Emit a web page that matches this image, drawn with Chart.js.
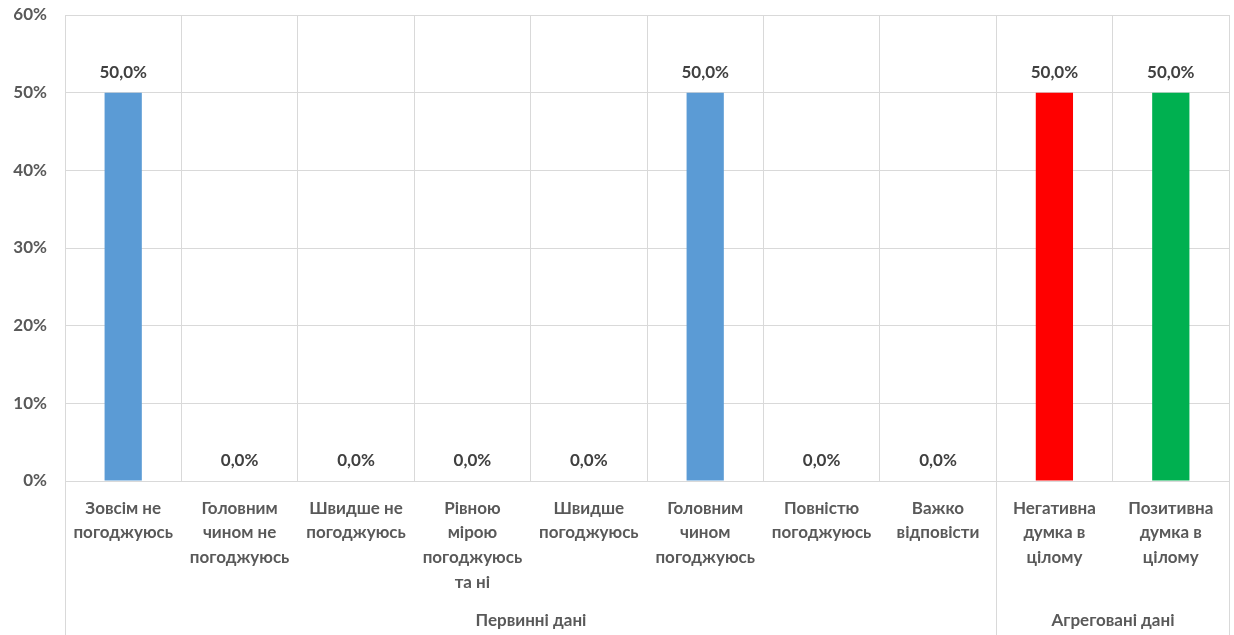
<!DOCTYPE html>
<html>
<head>
<meta charset="utf-8">
<script src="https://cdn.jsdelivr.net/npm/chart.js@4"></script>
<style>
    html, body { margin: 0; padding: 0; background: #fff; }
    #wrap { width: 1234px; height: 635px; }
</style>
</head>
<body>
<div id="wrap"><canvas id="myChart"></canvas></div>
<script>
const categories = [
    ['Зовсім не', 'погоджуюсь'],
    ['Головним', 'чином не', 'погоджуюсь'],
    ['Швидше не', 'погоджуюсь'],
    ['Рівною', 'мірою', 'погоджуюсь', 'та ні'],
    ['Швидше', 'погоджуюсь'],
    ['Головним', 'чином', 'погоджуюсь'],
    ['Повністю', 'погоджуюсь'],
    ['Важко', 'відповісти'],
    ['Негативна', 'думка в', 'цілому'],
    ['Позитивна', 'думка в', 'цілому']
];
const values = [50, 0, 0, 0, 0, 50, 0, 0, 50, 50];
const barColors = ['#5B9BD5', '#5B9BD5', '#5B9BD5', '#5B9BD5', '#5B9BD5',
    '#5B9BD5', '#5B9BD5', '#5B9BD5', '#FF0000', '#00B050'];
const groups = [
    { label: 'Первинні дані', from: 0, to: 7 },
    { label: 'Агреговані дані', from: 8, to: 9 }
];

const FONT = 'Lato, "Open Sans", "DejaVu Sans", sans-serif';

// value labels above the bars
const valueLabels = {
    id: 'valueLabels',
    afterDatasetsDraw(chart) {
        const ctx = chart.ctx;
        const meta = chart.getDatasetMeta(0);
        ctx.save();
        ctx.font = 'bold 17px ' + FONT;
        ctx.fillStyle = '#404040';
        ctx.textAlign = 'center';
        ctx.textBaseline = 'middle';
        meta.data.forEach((bar, i) => {
            ctx.fillText(values[i].toFixed(1).replace('.', ',') + '%', bar.x, bar.y - 20);
        });
        ctx.restore();
    }
};

// group separators and group labels under the axis
const groupLabels = {
    id: 'groupLabels',
    afterDraw(chart) {
        const ctx = chart.ctx;
        const x = chart.scales.x;
        const area = chart.chartArea;
        const half = (x.getPixelForValue(1) - x.getPixelForValue(0)) / 2;
        ctx.save();
        ctx.strokeStyle = '#d9d9d9';
        ctx.lineWidth = 1;
        ctx.font = 'bold 17px ' + FONT;
        ctx.fillStyle = '#595959';
        ctx.textAlign = 'center';
        ctx.textBaseline = 'middle';
        groups.forEach(g => {
            const left = Math.round(x.getPixelForValue(g.from) - half) + 0.5;
            const right = Math.round(x.getPixelForValue(g.to) + half) + 0.5;
            ctx.beginPath();
            ctx.moveTo(left, area.bottom);
            ctx.lineTo(left, chart.height);
            ctx.moveTo(right, area.bottom);
            ctx.lineTo(right, chart.height);
            ctx.stroke();
            ctx.fillText(g.label, (left + right) / 2, chart.height - 14);
        });
        ctx.restore();
    }
};

const ctx = document.getElementById('myChart').getContext('2d');
new Chart(ctx, {
    type: 'bar',
    data: {
        labels: categories,
        datasets: [{
            data: values,
            backgroundColor: barColors,
            barPercentage: 0.32,
            categoryPercentage: 1
        }]
    },
    options: {
        responsive: true,
        maintainAspectRatio: false,
        animation: false,
        layout: { padding: { top: 0, right: 5, left: 0, bottom: 0 } },
        plugins: {
            legend: { display: false },
            tooltip: { enabled: false }
        },
        scales: {
            x: {
                grid: { color: '#d9d9d9', drawTicks: false, offset: true },
                border: { color: '#d9d9d9' },
                ticks: {
                    color: '#595959',
                    font: { family: FONT, size: 17, weight: 'bold', lineHeight: 1.45 },
                    padding: 15,
                    maxRotation: 0,
                    autoSkip: false
                },
                afterFit: scale => { scale.height = 154; }
            },
            y: {
                min: 0,
                max: 60,
                grid: { color: '#d9d9d9', drawTicks: false },
                border: { display: false },
                ticks: {
                    stepSize: 10,
                    color: '#595959',
                    font: { family: FONT, size: 17, weight: 'bold' },
                    padding: 18,
                    callback: v => v + '%'
                },
                afterFit: scale => {
                    scale.width = 65;
                    scale.paddingTop = 15;
                    scale.paddingBottom = 0;
                }
            }
        }
    },
    plugins: [valueLabels, groupLabels]
});
</script>
</body>
</html>
